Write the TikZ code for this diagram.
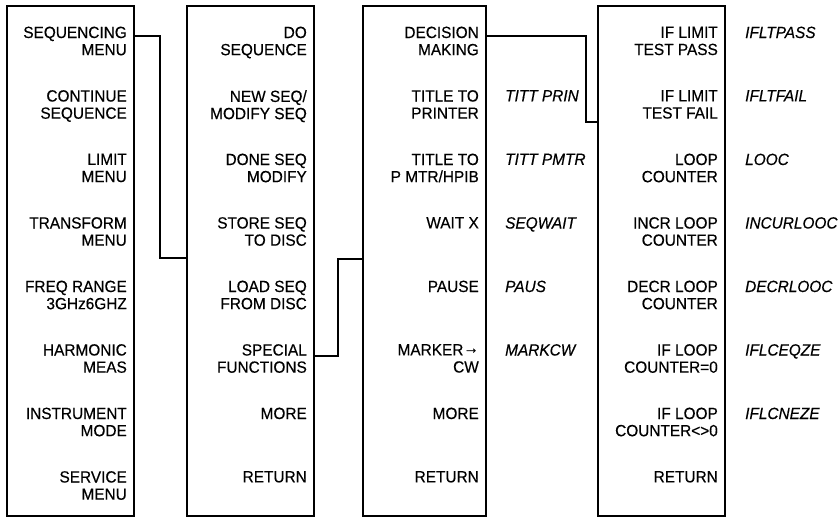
\documentclass[tikz,border=0pt]{standalone}
\usepackage{fontspec}
\setmainfont[FakeBold=0.4,FakeStretch=0.95]{Liberation Sans}
\begin{document}
\begin{tikzpicture}[x=1pt,y=-1pt,
  menubox/.style={draw,line width=1.5pt,minimum width=127pt,minimum height=510pt,inner sep=0pt},
  lbl/.style={anchor=north east,align=right,inner sep=0pt,font=\fontsize{16.2}{17.2}\selectfont},
  code/.style={anchor=north west,inner sep=0pt,font=\fontsize{16.2}{17.2}\selectfont\itshape},
  link/.style={line width=1.4pt}]
\useasboundingbox (0,0) rectangle (838,519);
% menu boxes
\node[menubox] (b1) at (70.5,261) {};
\node[menubox] (b2) at (250.5,261) {};
\node[menubox,minimum width=123pt] (b3) at (424.5,261) {};
\node[menubox] (b4) at (661.5,261) {};
% column 1
\node[lbl] (a0) at (127,26.5) {SEQUENCING\\MENU};
\node[lbl] (a1) at (127,90) {CONTINUE\\SEQUENCE};
\node[lbl] (a2) at (127,153.5) {LIMIT\\MENU};
\node[lbl] (a3) at (127,217) {TRANSFORM\\MENU};
\node[lbl] (a4) at (127,280.5) {FREQ RANGE\\3GHz6GHZ};
\node[lbl] (a5) at (127,344) {HARMONIC\\MEAS};
\node[lbl] (a6) at (127,407.5) {INSTRUMENT\\MODE};
\node[lbl] (a7) at (127,471) {SERVICE\\MENU};
% column 2
\node[lbl] (c0) at (307,26.5) {DO\\SEQUENCE};
\node[lbl] (c1) at (307,90) {NEW SEQ/\\MODIFY SEQ};
\node[lbl] (c2) at (307,153.5) {DONE SEQ\\MODIFY};
\node[lbl] (c3) at (307,217) {STORE SEQ\\TO DISC};
\node[lbl] (c4) at (307,280.5) {LOAD SEQ\\FROM DISC};
\node[lbl] (c5) at (307,344) {SPECIAL\\FUNCTIONS};
\node[lbl] (c6) at (307,407.5) {MORE};
\node[lbl] (c7) at (307,471) {RETURN};
% column 3
\node[lbl] (d0) at (479,26.5) {DECISION\\MAKING};
\node[lbl] (d1) at (479,90) {TITLE TO\\PRINTER};
\node[lbl] (d2) at (479,153.5) {TITLE TO\\P MTR/HPIB};
\node[lbl] (d3) at (479,217) {WAIT X};
\node[lbl] (d4) at (479,280.5) {PAUSE};
\node[lbl] (d5) at (479,344) {MARKER\raisebox{2pt}{→}\\CW};
\node[lbl] (d6) at (479,407.5) {MORE};
\node[lbl] (d7) at (479,471) {RETURN};
\node[code] (e1) at (505,90) {TITT PRIN};
\node[code] (e2) at (505,153.5) {TITT PMTR};
\node[code] (e3) at (505,217) {SEQWAIT};
\node[code] (e4) at (505,280.5) {PAUS};
\node[code] (e5) at (505,344) {MARKCW};
% column 4
\node[lbl] (f0) at (718,26.5) {IF LIMIT\\TEST PASS};
\node[lbl] (f1) at (718,90) {IF LIMIT\\TEST FAIL};
\node[lbl] (f2) at (718,153.5) {LOOP\\COUNTER};
\node[lbl] (f3) at (718,217) {INCR LOOP\\COUNTER};
\node[lbl] (f4) at (718,280.5) {DECR LOOP\\COUNTER};
\node[lbl] (f5) at (718,344) {IF LOOP\\COUNTER=0};
\node[lbl] (f6) at (718,407.5) {IF LOOP\\COUNTER<>0};
\node[lbl] (f7) at (718,471) {RETURN};
\node[code] (g0) at (745,26.5) {IFLTPASS};
\node[code] (g1) at (745,90) {IFLTFAIL};
\node[code] (g2) at (745,153.5) {LOOC};
\node[code] (g3) at (745,217) {INCURLOOC};
\node[code] (g4) at (745,280.5) {DECRLOOC};
\node[code] (g5) at (745,344) {IFLCEQZE};
\node[code] (g6) at (745,407.5) {IFLCNEZE};
% connectors
\draw[link] (b1.east |- 0,36) -| (160,258) -- (b2.west |- 0,258);
\draw[link] (b2.east |- 0,356) -| (338,259) -- (b3.west |- 0,259);
\draw[link] (b3.east |- 0,36) -| (586,122) -- (b4.west |- 0,122);
\end{tikzpicture}
\end{document}
